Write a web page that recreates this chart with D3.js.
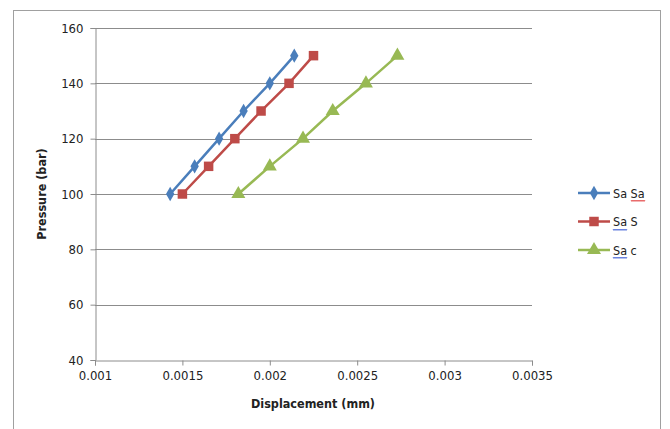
<!DOCTYPE html>
<html><head><meta charset="utf-8">
<script src="https://cdn.jsdelivr.net/npm/d3@7"></script>
<style>body{margin:0;background:#fff}svg{display:block}</style>
</head><body>
<svg id="c" width="670" height="429"></svg>
<script>
const pressure = [100, 110, 120, 130, 140, 150];
const sasa = [0.00143, 0.00157, 0.00171, 0.00185, 0.0020, 0.00214];
const sas  = [0.0015, 0.00165, 0.0018, 0.00195, 0.00211, 0.00225];
const sac  = [0.00182, 0.0020, 0.00219, 0.00236, 0.00255, 0.00273];
const seriesNames = ["Sa Sa", "Sa S", "Sa c"];
const xTicks = [0.001, 0.0015, 0.002, 0.0025, 0.003, 0.0035];
const yTicks = [40, 60, 80, 100, 120, 140, 160];
const colors = ["#4A7EBB", "#BE4B48", "#98B954"];

const svg = d3.select("#c");
const font = "'DejaVu Sans Condensed','DejaVu Sans',sans-serif";
svg.append("rect").attr("x",13.5).attr("y",10.5).attr("width",647).attr("height",440)
  .attr("fill","#fff").attr("stroke","#a0a0a0").attr("stroke-width",1);

const x = d3.scaleLinear().domain([0.001,0.0035]).range([95,532]);
const y = d3.scaleLinear().domain([40,160]).range([360,28]);

// gridlines
svg.append("g").selectAll("line").data(yTicks.filter(d=>d>40)).join("line")
  .attr("x1",95).attr("x2",532).attr("y1",d=>Math.round(y(d))+0.5).attr("y2",d=>Math.round(y(d))+0.5)
  .attr("stroke","#8c8c8c").attr("stroke-width",1);

const yAxis = svg.append("g").attr("transform","translate(95.5,0)")
  .call(d3.axisLeft(y).tickValues(yTicks).tickSize(5).tickPadding(7).tickFormat(d3.format("d")));
const xAxis = svg.append("g").attr("transform","translate(0,360.5)")
  .call(d3.axisBottom(x).tickValues(xTicks).tickSize(5).tickPadding(5).tickFormat(d=>String(+d.toFixed(4))));
[yAxis,xAxis].forEach(a=>{
  a.selectAll("path,line").attr("stroke","#8c8c8c");
  a.selectAll("text").attr("font-family",font).attr("font-size",13).attr("fill","#222");
});

svg.append("text").attr("x",313).attr("y",408).attr("text-anchor","middle")
  .attr("font-family",font).attr("font-size",12.5).attr("font-weight","bold").attr("fill","#222")
  .text("Displacement (mm)");
svg.append("text").attr("transform","translate(46,194) rotate(-90)").attr("text-anchor","middle")
  .attr("font-family",font).attr("font-size",12.5).attr("font-weight","bold").attr("fill","#222")
  .text("Pressure (bar)");

const data = [sasa, sas, sac];
const shapes = [d3.symbolDiamond, d3.symbolSquare, d3.symbolTriangle];
const sizes = [60, 90, 85];
const line = d3.line().x(d=>x(d[0])).y(d=>y(d[1]));
data.forEach((s,i)=>{
  const pts = s.map((v,j)=>[v,pressure[j]]);
  svg.append("path").datum(pts).attr("d",line).attr("fill","none")
    .attr("stroke",colors[i]).attr("stroke-width",2.5);
  svg.append("g").selectAll("path").data(pts).join("path")
    .attr("transform",d=>`translate(${x(d[0])},${y(d[1])})`)
    .attr("d",d3.symbol().type(shapes[i]).size(sizes[i])).attr("fill",colors[i]);
});

// legend
const lg = svg.append("g");
seriesNames.forEach((n,i)=>{
  const yy = 193 + i*28.5;
  lg.append("line").attr("x1",578).attr("x2",610).attr("y1",yy).attr("y2",yy)
    .attr("stroke",colors[i]).attr("stroke-width",2.5);
  lg.append("path").attr("transform",`translate(594,${yy})`)
    .attr("d",d3.symbol().type(shapes[i]).size(sizes[i])).attr("fill",colors[i]);
  lg.append("text").attr("x",613).attr("y",yy+4.5)
    .attr("font-family",font).attr("font-size",12.5).attr("fill","#222").text(n);
});
// spell-check squiggles
function squiggle(x0,x1,yy,c){
  let d = `M${x0},${yy}`;
  for(let xx=x0; xx<x1; xx+=2){ d += `L${xx+1},${yy+1.5}L${xx+2},${yy}`; }
  lg.append("path").attr("d",d).attr("fill","none").attr("stroke",c).attr("stroke-width",0.8);
}
squiggle(631,644,200,"#e03030");
squiggle(613,627,229,"#3050d0");
squiggle(613,627,257,"#3050d0");
</script>
</body></html>
